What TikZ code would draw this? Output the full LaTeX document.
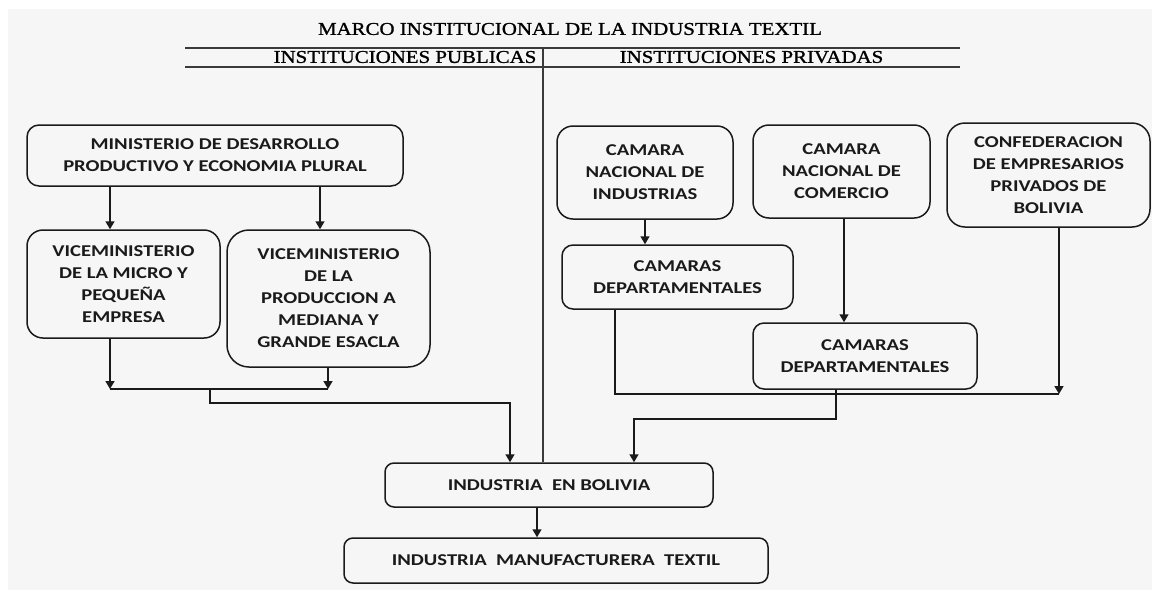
\documentclass[tikz,border=0pt]{standalone}
\usepackage{fontspec}
\usetikzlibrary{arrows.meta}
\newfontfamily\boxfont[FakeStretch=1.25]{Carlito}
\newfontfamily\titlefont[FakeStretch=1.16,FakeBold=1.2]{Liberation Serif}
\definecolor{bggray}{HTML}{F6F6F6}
\definecolor{ink}{HTML}{1A1A1A}
\definecolor{rule}{HTML}{3A3A3A}
\tikzset{
  box/.style={draw=ink, line width=1.5pt, fill=bggray, inner sep=0pt, align=center,
    text=ink, font=\boxfont\bfseries\fontsize{16.5}{22}\selectfont},
  head/.style={inner sep=0pt, text=black, font=\titlefont\fontsize{18}{20}\selectfont},
  arr/.style={draw=ink, line width=1.5pt, -{Triangle[length=8pt,width=9pt]}},
  conn/.style={draw=ink, line width=1.5pt},
  hrule/.style={draw=rule, line width=1.8pt}
}
\begin{document}
\begin{tikzpicture}[x=1pt,y=-1pt]
\useasboundingbox (0,0) rectangle (1152,590);
\fill[white] (0,0) rectangle (1152,590);
\fill[bggray] (8,9) rectangle (1152,590);

% header
\node[head] (title) at (570,29) {MARCO INSTITUCIONAL DE LA INDUSTRIA TEXTIL};
\node[head] (pub) at (405,57) {INSTITUCIONES PUBLICAS};
\node[head] (priv) at (751.5,57) {INSTITUCIONES PRIVADAS};
\coordinate (h1l) at (185,48); \coordinate (h1r) at (960,48);
\coordinate (h2l) at (185,67); \coordinate (h2r) at (960,67);
\draw[hrule] (h1l) -- (h1r);
\draw[hrule] (h2l) -- (h2r);

% public side
\node[box, rounded corners=12pt, minimum width=376, minimum height=61] (min) at (215,155.5)
  {MINISTERIO DE DESARROLLO\\PRODUCTIVO Y ECONOMIA PLURAL};
\node[box, rounded corners=16pt, minimum width=193, minimum height=108] (v1) at (123.5,284)
  {VICEMINISTERIO\\DE LA MICRO Y\\PEQUEÑA\\EMPRESA};
\node[box, rounded corners=22pt, minimum width=203, minimum height=137] (v2) at (328.5,298.5)
  {VICEMINISTERIO\\DE LA\\PRODUCCION A\\MEDIANA Y\\GRANDE ESACLA};

% private side
\node[box, rounded corners=16pt, minimum width=176, minimum height=93] (cni) at (645,172.5)
  {CAMARA\\NACIONAL DE\\INDUSTRIAS};
\node[box, rounded corners=16pt, minimum width=177, minimum height=93] (cnc) at (841.5,171.5)
  {CAMARA\\NACIONAL DE\\COMERCIO};
\node[box, rounded corners=18pt, minimum width=203, minimum height=104] (confed) at (1048.5,175)
  {CONFEDERACION\\DE EMPRESARIOS\\PRIVADOS DE\\BOLIVIA};
\node[box, rounded corners=11pt, minimum width=231, minimum height=64] (cd1) at (677.5,277)
  {CAMARAS\\DEPARTAMENTALES};
\node[box, rounded corners=11pt, minimum width=224, minimum height=66] (cd2) at (865,356)
  {CAMARAS\\DEPARTAMENTALES};

% bottom
\node[box, rounded corners=9pt, minimum width=328, minimum height=44] (ieb) at (549,485)
  {INDUSTRIA\ \ EN\ BOLIVIA};
\node[box, rounded corners=9pt, minimum width=424, minimum height=45] (imt) at (556,560.5)
  {INDUSTRIA\ \ MANUFACTURERA\ \ TEXTIL};

% divider
\coordinate (dtop) at (543,48);
\draw[conn, draw=rule] (dtop) -- (ieb.north -| dtop);

% public connectors
\coordinate (ja) at (110,389);
\coordinate (jb) at (328,389);
\coordinate (jf) at (320,389);
\coordinate (jc) at (210,389);
\coordinate (jd) at (210,403);
\coordinate (je) at (510,403);
\draw[arr] (min.south -| ja) -- (v1.north -| ja);
\draw[arr] (min.south -| jf) -- (v2.north -| jf);
\draw[arr] (v1.south -| ja) -- (ja);
\draw[arr] (v2.south -| jb) -- (jb);
\draw[conn] (ja) -- (jb);
\draw[arr] (jc) -- (jd) -- (je) -- (ieb.north -| je);

% private connectors
\draw[arr] (cni.south) -- (cni.south |- cd1.north);
\coordinate (kc) at (844,0);
\draw[arr] (cnc.south -| kc) -- (cd2.north -| kc);
\coordinate (k1) at (615,394);
\coordinate (k2) at (1059,394);
\draw[conn] (cd1.south -| k1) -- (k1) -- (k2);
\draw[arr] (confed.south -| k2) -- (k2);
\coordinate (k3) at (836,419);
\coordinate (k4) at (634,419);
\draw[arr] (cd2.south -| k3) -- (k3) -- (k4) -- (ieb.north -| k4);

% to textile
\coordinate (m1) at (537,0);
\draw[arr] (ieb.south -| m1) -- (imt.north -| m1);
\end{tikzpicture}
\end{document}
